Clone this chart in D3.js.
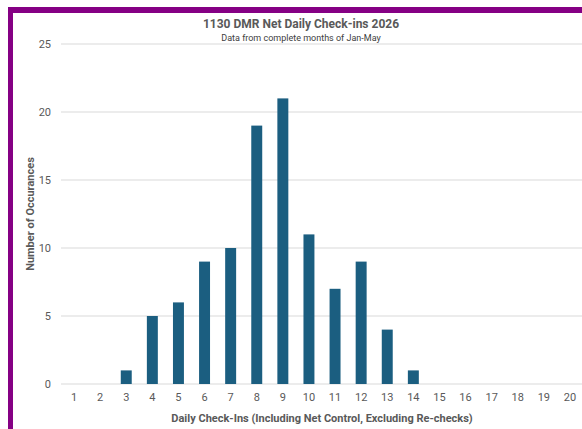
<!DOCTYPE html>
<html><head><meta charset="utf-8">
<script src="https://cdn.jsdelivr.net/npm/d3@7"></script>
<style>body{margin:0;background:#fff;overflow:hidden}svg{display:block}</style>
</head><body>
<script>
const categories = ["1","2","3","4","5","6","7","8","9","10","11","12","13","14","15","16","17","18","19","20"];
const counts = [0,0,1,5,6,9,10,19,21,11,7,9,4,1,0,0,0,0,0,0];
const yTicks = [0,5,10,15,20,25];
const titleText = "1130 DMR Net Daily Check-ins 2026";
const subtitleText = "Data from complete months of Jan-May";
const xTitle = "Daily Check-Ins (Including Net Control, Excluding Re-checks)";
const yTitle = "Number of Occurances";

const W = 582, H = 429;
const font = "Roboto, 'Noto Sans', sans-serif";
const svg = d3.select("body").append("svg").attr("width", W).attr("height", H);
svg.append("rect").attr("width", W).attr("height", H).attr("fill", "#fff");

// purple frame (top + left)
svg.append("rect").attr("x", 8).attr("y", 7).attr("width", W - 8).attr("height", 6).attr("fill", "#850084");
svg.append("rect").attr("x", 8).attr("y", 7).attr("width", 5).attr("height", H - 7).attr("fill", "#850084");

const plot = {left: 61, right: 583, top: 44, bottom: 384};
const x = d3.scaleBand().domain(categories).range([plot.left, plot.right]).paddingInner(0.58).paddingOuter(0.29);
const y = d3.scaleLinear().domain([0, 25]).range([plot.bottom, plot.top]);

// gridlines
svg.append("g").selectAll("line").data(yTicks).join("line")
  .attr("x1", plot.left).attr("x2", W).attr("y1", d => y(d)).attr("y2", d => y(d))
  .attr("stroke", "#d9d9d9").attr("stroke-width", 1);

// y axis labels
const yAxis = d3.axisLeft(y).tickValues(yTicks).tickSize(0).tickPadding(0);
const gy = svg.append("g").attr("transform", `translate(${plot.left - 10},0)`).call(yAxis);
gy.select(".domain").remove();
gy.selectAll("text").attr("font-family", font).attr("font-size", 11).attr("fill", "#595959").attr("dy", "0.35em").attr("text-anchor", "end");

// bars
svg.append("g").selectAll("rect").data(counts).join("rect")
  .attr("x", (d, i) => x(categories[i])).attr("width", x.bandwidth())
  .attr("y", d => y(d)).attr("height", d => y(0) - y(d))
  .attr("fill", "#1b5e80");

// x axis
const xAxis = d3.axisBottom(x).tickSize(0).tickPadding(0);
const gx = svg.append("g").attr("transform", `translate(0,${plot.bottom + 9})`).call(xAxis);
gx.select(".domain").remove();
gx.selectAll("text").attr("font-family", font).attr("font-size", 11).attr("fill", "#595959").attr("dy", "0.71em");

// titles
svg.append("text").attr("x", 301).attr("y", 28).attr("text-anchor", "middle")
  .attr("font-family", font).attr("font-size", 12).attr("font-weight", "bold").attr("fill", "#595959").text(titleText);
svg.append("text").attr("x", 301).attr("y", 41).attr("text-anchor", "middle")
  .attr("font-family", font).attr("font-size", 9).attr("fill", "#404040").text(subtitleText);
svg.append("text").attr("x", 322).attr("y", 422).attr("text-anchor", "middle")
  .attr("font-family", font).attr("font-size", 11).attr("font-weight", "bold").attr("fill", "#595959").text(xTitle);
svg.append("text").attr("transform", `translate(34,214) rotate(-90)`).attr("text-anchor", "middle")
  .attr("font-family", font).attr("font-size", 11).attr("font-weight", "bold").attr("fill", "#595959").text(yTitle);
</script>
</body></html>
